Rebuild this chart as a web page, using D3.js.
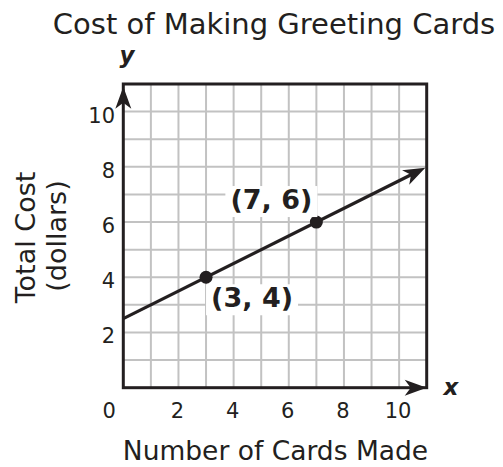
<!DOCTYPE html>
<html>
<head>
<meta charset="utf-8">
<script src="https://cdn.jsdelivr.net/npm/d3@7"></script>
<style>
  body { margin: 0; background: #fff; }
  text { font-family: "DejaVu Sans", Verdana, sans-serif; fill: #231f20; }
</style>
</head>
<body>
<div id="chart"></div>
<script>
const xTicks = [0, 2, 4, 6, 8, 10]
const yTicks = [2, 4, 6, 8, 10]
const gridValues = [1, 2, 3, 4, 5, 6, 7, 8, 9, 10]
const points = [
  { x: 3, y: 4, label: '(3, 4)' },
  { x: 7, y: 6, label: '(7, 6)' }
]
const lineX = [0, 10.95]
const lineY = [2.5, 7.97]

const width = 503
const height = 467
const ink = '#231f20'

const x = d3.scaleLinear().domain([0, 11]).range([123.3, 426.7])
const y = d3.scaleLinear().domain([0, 11]).range([387.7, 84])

const svg = d3.select('#chart')
  .append('svg')
  .attr('width', width)
  .attr('height', height)

// grid
const grid = svg.append('g').attr('stroke', '#c2c2c2').attr('stroke-width', 2)
grid.selectAll('.v').data(gridValues).join('line')
  .attr('x1', d => x(d)).attr('x2', d => x(d))
  .attr('y1', y(0)).attr('y2', y(11))
grid.selectAll('.h').data(gridValues).join('line')
  .attr('y1', d => y(d)).attr('y2', d => y(d))
  .attr('x1', x(0)).attr('x2', x(11))

// frame
svg.append('rect')
  .attr('x', x(0)).attr('y', y(11))
  .attr('width', x(11) - x(0)).attr('height', y(0) - y(11))
  .attr('fill', 'none').attr('stroke', ink).attr('stroke-width', 3)

// arrowhead pointing along angle (radians), tip at (tx, ty)
function arrow (tx, ty, angle, len = 22, half = 8, notch = 6) {
  const c = Math.cos(angle), s = Math.sin(angle)
  const pt = (a, b) => [tx - a * c - b * -s, ty - a * s - b * c]
  const p1 = pt(len, half), p2 = pt(len - notch, 0), p3 = pt(len, -half)
  return `M${tx},${ty}L${p1}L${p2}L${p3}Z`
}

// axis arrows
svg.append('path').attr('d', arrow(x(0), y(10.9), -Math.PI / 2)).attr('fill', ink)
svg.append('path').attr('d', arrow(x(11), y(0), 0)).attr('fill', ink)

// data line
const x0 = x(lineX[0]), y0 = y(lineY[0]), x1 = x(lineX[1]), y1 = y(lineY[1])
const ang = Math.atan2(y1 - y0, x1 - x0)
svg.append('line')
  .attr('x1', x0).attr('y1', y0)
  .attr('x2', x1 - 12 * Math.cos(ang)).attr('y2', y1 - 12 * Math.sin(ang))
  .attr('stroke', ink).attr('stroke-width', 3.2)
svg.append('path').attr('d', arrow(x1, y1, ang)).attr('fill', ink)

// points
svg.selectAll('.pt').data(points).join('circle')
  .attr('cx', d => x(d.x)).attr('cy', d => y(d.y)).attr('r', 6.5)
  .attr('fill', ink)

// point labels with white backing
const labelOffset = { '(3, 4)': [46, 30], '(7, 6)': [-45, -13] }
const lab = svg.selectAll('.lab').data(points).join('g')
  .attr('transform', d => `translate(${x(d.x) + labelOffset[d.label][0]},${y(d.y) + labelOffset[d.label][1]})`)
lab.append('rect')
  .attr('x', -46).attr('y', -23).attr('width', 92).attr('height', 31)
  .attr('fill', '#fff')
lab.append('text')
  .attr('text-anchor', 'middle')
  .attr('font-size', 27).attr('font-weight', 'bold')
  .text(d => d.label)

// tick labels
svg.selectAll('.xt').data(xTicks).join('text')
  .attr('x', d => d === 0 ? x(d) - 14 : x(d) - 1)
  .attr('y', 418)
  .attr('text-anchor', 'middle')
  .attr('font-size', 21)
  .text(d => d)
svg.selectAll('.yt').data(yTicks).join('text')
  .attr('x', 115)
  .attr('y', d => y(d) + 11)
  .attr('text-anchor', 'end')
  .attr('font-size', 21)
  .text(d => d)

// axis letters
svg.append('text').attr('x', 127).attr('y', 63).attr('text-anchor', 'middle')
  .attr('font-size', 23).attr('font-weight', 'bold').attr('font-style', 'italic').text('y')
svg.append('text').attr('x', 451).attr('y', 395).attr('text-anchor', 'middle')
  .attr('font-size', 23).attr('font-weight', 'bold').attr('font-style', 'italic').text('x')

// titles
svg.append('text').attr('x', 274).attr('y', 34).attr('text-anchor', 'middle')
  .attr('font-size', 29).text('Cost of Making Greeting Cards')
svg.append('text').attr('x', 275.5).attr('y', 460).attr('text-anchor', 'middle')
  .attr('font-size', 26.5).text('Number of Cards Made')
svg.append('text').attr('transform', 'translate(35,237.5) rotate(-90)').attr('text-anchor', 'middle')
  .attr('font-size', 27).text('Total Cost')
svg.append('text').attr('transform', 'translate(66,236) rotate(-90)').attr('text-anchor', 'middle')
  .attr('font-size', 27).text('(dollars)')
</script>
</body>
</html>
